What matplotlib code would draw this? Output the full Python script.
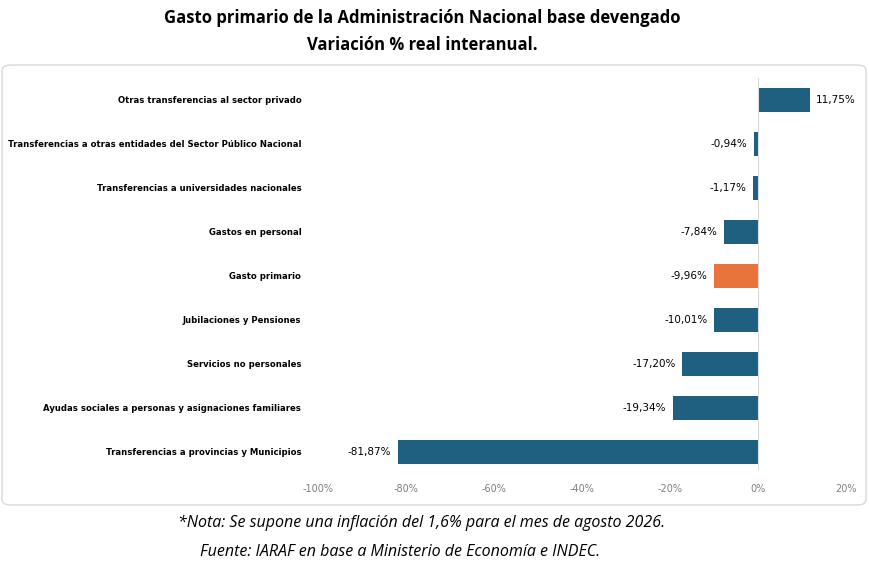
import matplotlib
matplotlib.use("Agg")
import matplotlib.pyplot as plt
from matplotlib.patches import FancyBboxPatch

categories = ["Transferencias a provincias y Municipios",
              "Ayudas sociales a personas y asignaciones familiares",
              "Servicios no personales",
              "Jubilaciones y Pensiones",
              "Gasto primario",
              "Gastos en personal",
              "Transferencias a universidades nacionales",
              "Transferencias a otras entidades del Sector Público Nacional",
              "Otras transferencias al sector privado"]
values = [-81.87, -19.34, -17.20, -10.01, -9.96, -7.84, -1.17, -0.94, 11.75]
ticks = [-100, -80, -60, -40, -20, 0, 20]

blue = "#1f5f80"
orange = "#e8743b"
colors = [orange if c == "Gasto primario" else blue for c in categories]

fig = plt.figure(figsize=(8.7, 5.8), dpi=100)
fig.patches.append(FancyBboxPatch((2/870, 1-505/580), 864/870, 440/580,
                                  boxstyle="round,pad=0,rounding_size=0.01",
                                  transform=fig.transFigure, fill=False,
                                  edgecolor="#d9d9d9", linewidth=1))
ax = fig.add_axes([318/870, 1-470/580, 528/870, 392/580])
ax.barh(range(len(values)), values, height=0.55, color=colors)
ax.set_xlim(-100, 20)
ax.set_ylim(-0.41, 8.5)
ax.set_xticks(ticks)
ax.set_xticklabels([f"{t}%" for t in ticks], fontsize=7, color="#808080")
ax.set_yticks(range(len(categories)))
ax.set_yticklabels(categories, fontsize=6.1, fontweight="bold")
ax.tick_params(length=0, pad=12)
ax.tick_params(axis="x", pad=10)
for s in ax.spines.values():
    s.set_visible(False)
ax.axvline(0, color="#d9d9d9", lw=0.8, ymin=0, ymax=1)
for i, v in enumerate(values):
    lab = f"{v:.2f}%".replace(".", ",")
    if v >= 0:
        ax.text(v + 1.5, i, lab, va="center", ha="left", fontsize=7.5)
    else:
        ax.text(v - 1.5, i, lab, va="center", ha="right", fontsize=7.5)

fig.text(0.485, 1-18/580, "Gasto primario de la Administración Nacional base devengado",
         ha="center", va="center", fontsize=12, fontweight="bold", family="Open Sans")
fig.text(0.485, 1-45/580, "Variación % real interanual.",
         ha="center", va="center", fontsize=12, fontweight="bold", family="Open Sans")
fig.text(0.485, 1-523/580, "*Nota: Se supone una inflación del 1,6% para el mes de agosto 2026.",
         ha="center", va="center", fontsize=11.5, style="italic", family="Open Sans")
fig.text(0.46, 1-552/580, "Fuente: IARAF en base a Ministerio de Economía e INDEC.",
         ha="center", va="center", fontsize=11.5, style="italic", family="Open Sans")
fig.savefig("out.png", dpi=100)
